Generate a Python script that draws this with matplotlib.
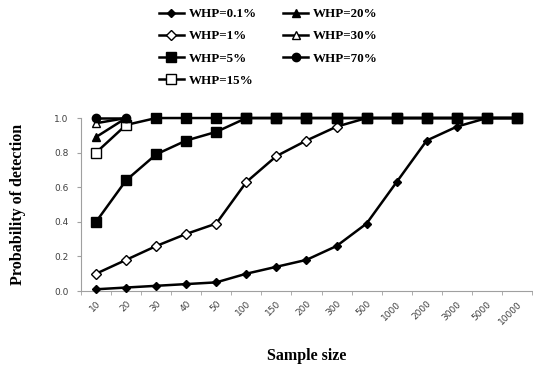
import numpy as np
import matplotlib
matplotlib.use('Agg')
import matplotlib.pyplot as plt
from matplotlib.ticker import FixedLocator

sizes = ['10', '20', '30', '40', '50', '100', '150', '200', '300', '500',
         '1000', '2000', '3000', '5000', '10000']

whp_01 = [0.01, 0.02, 0.03, 0.04, 0.05, 0.10, 0.14, 0.18, 0.26, 0.39,
          0.63, 0.87, 0.95, 1.0, 1.0]
whp_1 = [0.10, 0.18, 0.26, 0.33, 0.39, 0.63, 0.78, 0.87, 0.95, 1.0,
         1.0, 1.0, 1.0, 1.0, 1.0]
whp_5 = [0.40, 0.64, 0.79, 0.87, 0.92, 1.0, 1.0, 1.0, 1.0, 1.0,
         1.0, 1.0, 1.0, 1.0, 1.0]
whp_15 = [0.80, 0.96, 1.0, 1.0, 1.0, 1.0, 1.0, 1.0, 1.0, 1.0,
          1.0, 1.0, 1.0, 1.0, 1.0]
whp_20 = [0.89, 1.0]
whp_30 = [0.97, 1.0]
whp_70 = [1.0, 1.0]

serif = ['Liberation Serif', 'DejaVu Serif']

fig = plt.figure(figsize=(5.33, 3.70), dpi=100)
ax = fig.add_axes([0.152, 0.2135, 0.846, 0.4675])

x = np.arange(len(sizes))
lw = 1.8
# (label, values, marker, facecolor, size, zorder)
series = [
    ('WHP=0.1%', whp_01, 'D', 'black', 4.5, 3),
    ('WHP=1%', whp_1, 'D', 'white', 5, 3),
    ('WHP=5%', whp_5, 's', 'black', 6.5, 5),
    ('WHP=15%', whp_15, 's', 'white', 6.5, 4),
    ('WHP=20%', whp_20, '^', 'black', 6, 4),
    ('WHP=30%', whp_30, '^', 'white', 6, 4),
    ('WHP=70%', whp_70, 'o', 'black', 6, 6),
]
for label, vals, mk, fc, ms, z in series:
    n = len(vals)
    if label == 'WHP=15%':
        # open markers for the first two points, filled ones after (as in the original)
        ax.plot(x[:n], vals, color='black', lw=lw, marker=mk, ms=ms, mfc=fc,
                mec='black', mew=1.0, label=label, zorder=z, clip_on=False,
                markevery=[0, 1])
        ax.plot(x[2:n], vals[2:], ls='none', marker=mk, ms=ms, mfc='black',
                mec='black', zorder=z, clip_on=False)
    else:
        ax.plot(x[:n], vals, color='black', lw=lw, marker=mk, ms=ms,
                mfc=fc, mec='black', mew=1.0, label=label, zorder=z, clip_on=False)

ax.set_xlim(-0.5, len(sizes) - 0.5)
ax.set_ylim(0, 1.0)
ax.set_xticks(x)
ax.set_xticklabels(sizes, rotation=45, ha='right', rotation_mode='anchor',
                   fontsize=6.5, color='#404040')
ax.xaxis.set_minor_locator(FixedLocator(np.arange(-0.5, len(sizes), 1.0)))
ax.tick_params(axis='x', which='major', length=0, pad=6)
ax.tick_params(axis='x', which='minor', length=3, color='#a0a0a0', direction='out')
ax.set_yticks(np.arange(0, 1.01, 0.2))
ax.set_yticklabels(['%.1f' % v for v in np.arange(0, 1.01, 0.2)],
                   fontsize=6.5, color='#404040')
ax.tick_params(axis='y', length=3, color='#a0a0a0', pad=6)

for s in ['top', 'right']:
    ax.spines[s].set_visible(False)
for s in ['left', 'bottom']:
    ax.spines[s].set_color('#a0a0a0')
    ax.spines[s].set_linewidth(0.8)

ax.set_xlabel('Sample size', family=serif, fontweight='bold', fontsize=11.5,
              labelpad=16)
ax.set_ylabel('Probability of detection', family=serif, fontweight='bold',
              fontsize=11.5, labelpad=20)

leg = fig.legend(loc='upper center', bbox_to_anchor=(0.5035, 1.01), ncol=2,
                 frameon=False, prop={'family': serif, 'weight': 'bold', 'size': 9.4},
                 labelspacing=0.77, columnspacing=2.06, handlelength=1.9,
                 handletextpad=0.35)

fig.savefig('out.png', dpi=100)
